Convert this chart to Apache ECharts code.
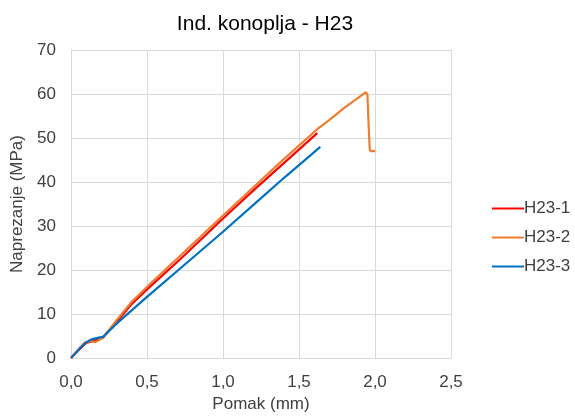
<!DOCTYPE html>
<html>
<head>
<meta charset="utf-8">
<script src="https://cdn.jsdelivr.net/npm/echarts@6/dist/echarts.min.js"></script>
<style>
  html, body { margin: 0; padding: 0; background: #fff; }
  #chart { width: 575px; height: 418px; }
</style>
</head>
<body>
<div id="chart"></div>
<script>
// podaci ocitani s dijagrama (pomak mm, naprezanje MPa)
var seriesNames = ['H23-1', 'H23-2', 'H23-3'];
var h23_1 = [[0, 0], [0.05, 1.8], [0.1, 3.4], [0.15, 3.9], [0.21, 4.6], [0.3, 8.2], [0.4, 12.3], [0.5, 15.6],
  [0.72, 22.5], [1.0, 31.7], [1.2, 38.1], [1.4, 44.3], [1.62, 51.1]];
var h23_2 = [[0, 0], [0.05, 2], [0.09, 3.5], [0.125, 3.8], [0.16, 3.6], [0.21, 4.6], [0.3, 8.6], [0.4, 12.8],
  [0.5, 16.2], [0.72, 23.3], [1.0, 32.4], [1.2, 38.8], [1.4, 45.2], [1.62, 52], [1.7, 54.1], [1.8, 56.9],
  [1.9, 59.4], [1.94, 60.4], [1.95, 59.8], [1.955, 55.5], [1.965, 47.5], [1.97, 47], [2.0, 47]];
var h23_3 = [[0, 0], [0.05, 1.9], [0.1, 3.6], [0.14, 4.3], [0.19, 4.7], [0.21, 4.8], [0.3, 7.8], [0.5, 13.9],
  [0.72, 20.4], [1.0, 28.7], [1.2, 34.8], [1.4, 40.9], [1.64, 48]];
var seriesColors = ['#ff0000', '#ed7d31', '#0070c0'];

var chart = echarts.init(document.getElementById('chart'));
var font = 'Liberation Sans, Arial, sans-serif';
var lineData = [h23_1, h23_2, h23_3];

chart.setOption({
  animation: false,
  textStyle: { fontFamily: font },
  title: {
    text: 'Ind. konoplja - H23',
    left: 260,
    textAlign: 'center',
    top: 9,
    textStyle: { fontFamily: font, fontSize: 21, fontWeight: 'normal', color: '#000' }
  },
  legend: {
    orient: 'vertical',
    left: 487,
    top: 195,
    itemWidth: 32,
    itemHeight: 2,
    itemGap: 12,
    icon: 'rect',
    data: seriesNames,
    textStyle: { fontFamily: font, fontSize: 17, color: '#404040', padding: [0, 0, 0, -5] }
  },
  grid: { left: 71, right: 124, top: 50, bottom: 60 },
  xAxis: {
    type: 'value',
    min: 0, max: 2.5, interval: 0.5,
    name: 'Pomak (mm)',
    nameLocation: 'middle',
    nameGap: 38,
    nameTextStyle: { fontFamily: font, fontSize: 17, color: '#404040' },
    axisLine: { show: true, lineStyle: { color: '#d9d9d9' } },
    axisTick: { show: false },
    splitLine: { show: true, lineStyle: { color: '#d9d9d9' } },
    axisLabel: {
      fontSize: 17, color: '#404040', margin: 16,
      formatter: function(v) { return v.toFixed(1).replace('.', ','); }
    }
  },
  yAxis: {
    type: 'value',
    min: 0, max: 70, interval: 10,
    name: 'Naprezanje (MPa)',
    nameLocation: 'middle',
    nameGap: 42,
    nameRotate: 90,
    nameTextStyle: { fontFamily: font, fontSize: 17, color: '#404040' },
    axisLine: { show: true, lineStyle: { color: '#d9d9d9' } },
    axisTick: { show: false },
    splitLine: { show: true, lineStyle: { color: '#d9d9d9' } },
    axisLabel: { fontSize: 17, color: '#404040', margin: 15 }
  },
  series: seriesNames.map(function(n, i) {
    return {
      name: n,
      type: 'line',
      data: lineData[i],
      showSymbol: false,
      symbol: 'none',
      z: 2 + i,
      itemStyle: { color: seriesColors[i] },
      lineStyle: { color: seriesColors[i], width: 2.2 }
    };
  })
});
</script>
</body>
</html>
